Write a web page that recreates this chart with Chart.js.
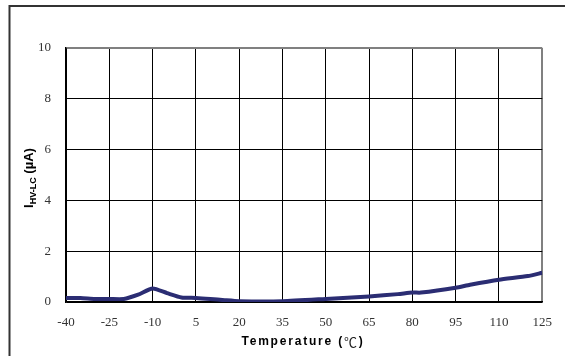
<!DOCTYPE html>
<html>
<head>
<meta charset="utf-8">
<script src="https://cdn.jsdelivr.net/npm/chart.js@4/dist/chart.umd.min.js"></script>
<style>
html,body{margin:0;padding:0;background:#fff;}
#wrap{width:565px;height:356px;position:relative;}
</style>
</head>
<body>
<div id="wrap"><canvas id="c" width="565" height="356"></canvas></div>
<script>
const temps = [-40,-35,-30,-25,-20,-15,-10,-5,0,5,10,15,20,35,50,65,75,80,83,95,100,110,120,125];
const currents = [0.16,0.16,0.12,0.12,0.12,0.29,0.53,0.35,0.18,0.16,0.12,0.07,0.03,0.03,0.12,0.22,0.31,0.37,0.37,0.56,0.68,0.88,1.02,1.15];
const xTicks = [-40,-25,-10,5,20,35,50,65,80,95,110,125];
const yTicks = [0,2,4,6,8,10];
const xTitle = 'Temperature (';
const xTitleUnit = '\u2103';
const xTitleEnd = ')';
const yTitleMain = 'I';
const yTitleSub = 'HV-LC';
const yTitleUnit = ' (\u00B5A)';

const framePlugin = {
  id: 'frame',
  beforeDraw(chart) {
    const ctx = chart.ctx;
    ctx.save();
    ctx.fillStyle = '#fff';
    ctx.fillRect(0, 0, chart.width, chart.height);
    ctx.strokeStyle = '#333';
    ctx.lineWidth = 2;
    ctx.beginPath();
    ctx.moveTo(9.5, chart.height);
    ctx.lineTo(9.5, 6);
    ctx.lineTo(chart.width, 6);
    ctx.stroke();
    ctx.restore();
  },
  afterDraw(chart) {
    const ctx = chart.ctx;
    const a = chart.chartArea;
    ctx.save();
    ctx.fillStyle = '#000';
    // x title
    const fx = 'bold 12px "Liberation Sans", Arial, sans-serif';
    const fu = '13px "Noto Sans CJK SC", "DejaVu Sans", sans-serif';
    try { ctx.letterSpacing = '1.8px'; } catch(e) {}
    ctx.textBaseline = 'middle';
    ctx.textAlign = 'left';
    ctx.font = fx; const t1 = ctx.measureText(xTitle).width; const t3 = ctx.measureText(xTitleEnd).width;
    ctx.font = fu; const t2 = ctx.measureText(xTitleUnit).width;
    let xx = 303 - (t1 + t2 + t3) / 2;
    ctx.font = fx; ctx.fillText(xTitle, xx, 342); xx += t1;
    ctx.font = fu; ctx.fillStyle = '#222'; ctx.fillText(xTitleUnit, xx, 342); xx += t2;
    ctx.fillStyle = '#000';
    ctx.font = fx; ctx.fillText(xTitleEnd, xx, 342);
    try { ctx.letterSpacing = '0px'; } catch(e) {}
    // y title rotated with subscript
    ctx.translate(28, 178);
    ctx.rotate(-Math.PI / 2);
    const fMain = 'bold 13px "Liberation Sans", Arial, sans-serif';
    const fSub = 'bold 9px "Liberation Sans", Arial, sans-serif';
    ctx.font = fMain; const w1 = ctx.measureText(yTitleMain).width;
    const w3 = ctx.measureText(yTitleUnit).width;
    ctx.font = fSub; const w2 = ctx.measureText(yTitleSub).width;
    let x = -(w1 + w2 + w3) / 2;
    ctx.textAlign = 'left';
    ctx.textBaseline = 'alphabetic';
    ctx.font = fMain; ctx.fillText(yTitleMain, x, 5); x += w1;
    ctx.font = fSub; ctx.fillText(yTitleSub, x, 8); x += w2;
    ctx.font = fMain; ctx.fillText(yTitleUnit, x, 5);
    ctx.restore();
  }
};

new Chart(document.getElementById('c'), {
  type: 'line',
  data: {
    datasets: [{
      data: temps.map((t, i) => ({x: t, y: currents[i]})),
      borderColor: '#2b2d73',
      borderWidth: 4,
      pointRadius: 0,
      tension: 0.2,
      fill: false
    }]
  },
  options: {
    responsive: false,
    animation: false,
    devicePixelRatio: 1,
    layout: { padding: { left: 0, right: 17, top: 48, bottom: 0 } },
    plugins: { legend: { display: false }, tooltip: { enabled: false } },
    scales: {
      x: {
        type: 'linear',
        min: -40, max: 125,
        afterBuildTicks(s) { s.ticks = xTicks.map(v => ({value: v})); },
        afterFit(s) { s.height = 54; },
        grid: {
          drawTicks: false,
          color: c => (c.tick && c.tick.value === 125) ? '#808080' : '#000',
          lineWidth: c => (c.tick && c.tick.value === 125) ? 2 : 1
        },
        border: { color: '#000', width: 1.5 },
        ticks: {
          padding: 13,
          color: '#333',
          font: { family: '"Liberation Serif", "Times New Roman", serif', size: 13 },
          maxRotation: 0,
          autoSkip: false
        }
      },
      y: {
        min: 0, max: 10,
        afterBuildTicks(s) { s.ticks = yTicks.map(v => ({value: v})); },
        afterFit(s) { s.width = 66; },
        grid: {
          drawTicks: false,
          color: c => (c.tick && c.tick.value === 10) ? '#808080' : '#000',
          lineWidth: c => (c.tick && c.tick.value === 10) ? 2 : 1
        },
        border: { color: '#000', width: 1.5 },
        ticks: {
          padding: 15,
          color: '#333',
          font: { family: '"Liberation Serif", "Times New Roman", serif', size: 13 }
        }
      }
    }
  },
  plugins: [framePlugin]
});
</script>
</body>
</html>
